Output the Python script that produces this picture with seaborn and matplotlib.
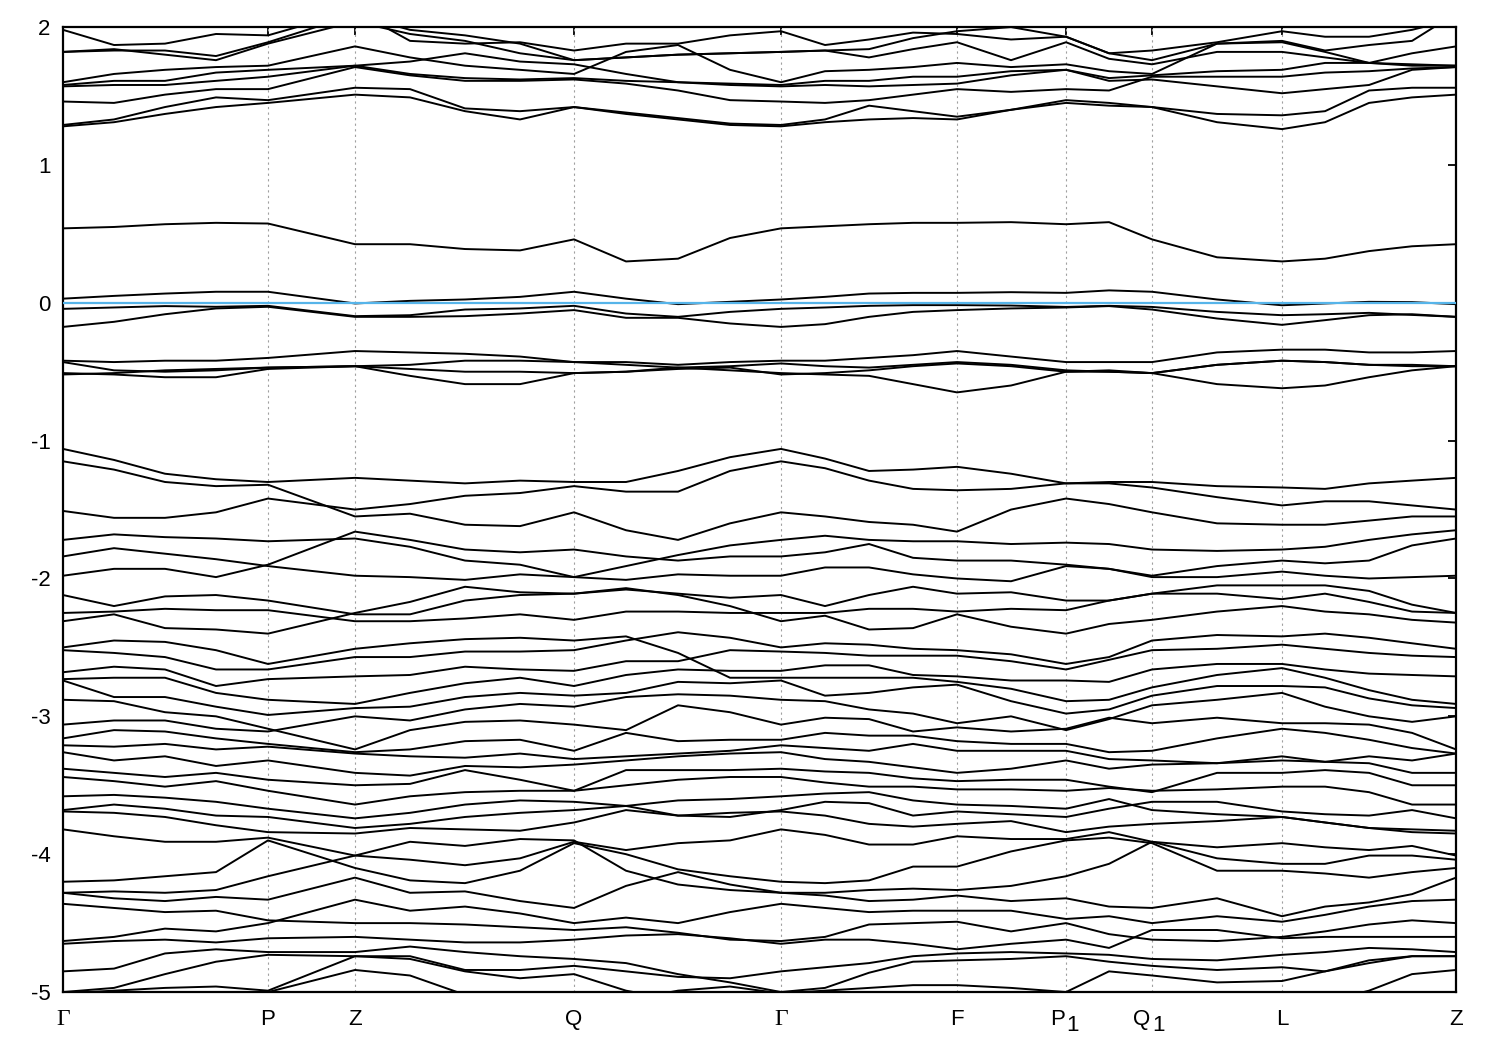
import matplotlib
matplotlib.use("Agg")
import matplotlib.pyplot as plt
import pandas as pd
import seaborn as sns

# path coordinate of every sampled column along the k-path
k_path = [0, 51, 102, 153, 205, 292, 347, 402, 457, 511, 563, 615, 667, 718,
          762, 806, 850, 894, 948, 1003, 1046, 1089, 1154, 1219, 1262, 1306, 1349, 1393]

k_nodes = [0, 205, 292, 511, 718, 894, 1003, 1089, 1219, 1393]
k_labels = ["Γ", "P", "Z", "Q", "Γ", "F", "", "", "L", "Z"]
sub_labels = [(1003, "P", "1"), (1089, "Q", "1")]

# ----------------------------------
# bands above the gap
# ----------------------------------
b09 = [1.98,1.87,1.88,1.95,1.94,2.12,1.90,1.88,1.89,1.83,1.88,1.88,1.94,1.97,1.87,1.91,1.96,1.95,1.91,1.93,1.81,1.76,1.88,1.90,1.83,1.87,1.90,2.10]
b08 = [1.82,1.83,1.83,1.79,1.89,2.09,1.98,1.94,1.88,1.76,1.78,1.80,1.81,1.82,1.83,1.84,1.92,1.97,2.00,1.93,1.81,1.83,1.89,1.97,1.93,1.93,1.98,2.06]
b07 = [1.82,1.84,1.80,1.76,1.88,2.04,1.95,1.90,1.81,1.76,1.78,1.80,1.81,1.82,1.83,1.78,1.84,1.89,1.76,1.89,1.77,1.73,1.82,1.82,1.78,1.74,1.81,1.86]
b06 = [1.60,1.66,1.69,1.71,1.72,1.86,1.78,1.72,1.69,1.66,1.82,1.87,1.69,1.60,1.68,1.69,1.71,1.74,1.71,1.73,1.68,1.66,1.88,1.89,1.82,1.74,1.72,1.72]
b05 = [1.58,1.61,1.61,1.67,1.69,1.72,1.75,1.81,1.75,1.73,1.66,1.60,1.59,1.58,1.61,1.61,1.64,1.64,1.68,1.69,1.61,1.62,1.57,1.52,1.55,1.58,1.69,1.71]
b04 = [1.57,1.58,1.58,1.61,1.64,1.72,1.66,1.63,1.62,1.63,1.61,1.60,1.58,1.57,1.58,1.57,1.58,1.59,1.65,1.69,1.63,1.65,1.68,1.69,1.74,1.74,1.73,1.72]
b03 = [1.46,1.45,1.51,1.55,1.55,1.71,1.65,1.61,1.61,1.62,1.59,1.54,1.47,1.46,1.45,1.47,1.51,1.55,1.53,1.55,1.54,1.64,1.64,1.64,1.67,1.68,1.70,1.71]
b02 = [1.29,1.33,1.42,1.49,1.47,1.56,1.55,1.41,1.39,1.42,1.38,1.34,1.30,1.29,1.33,1.43,1.39,1.35,1.40,1.47,1.45,1.42,1.37,1.36,1.39,1.54,1.56,1.56]
b01 = [1.28,1.31,1.37,1.42,1.45,1.51,1.49,1.39,1.33,1.42,1.37,1.33,1.29,1.28,1.31,1.33,1.34,1.33,1.40,1.45,1.43,1.42,1.31,1.26,1.31,1.45,1.49,1.51]

# ----------------------------------
# bands around the Fermi level
# ----------------------------------
m1 = [.54,.55,.57,.58,.575,.425,.425,.39,.38,.46,.30,.32,.47,.54,.555,.57,.58,.58,.585,.57,.585,.46,.33,.30,.32,.375,.41,.425]
m2 = [.03,.05,.067,.08,.08,-.005,.014,.024,.043,.08,.03,-.01,.007,.024,.043,.067,.072,.072,.077,.072,.09,.08,.024,-.018,-.005,.007,.005,-.01]
m3 = [-.044,-.034,-.024,-.029,-.022,-.097,-.09,-.049,-.041,-.022,-.078,-.102,-.066,-.044,-.034,-.022,-.017,-.017,-.02,-.03,-.022,-.03,-.066,-.09,-.083,-.073,-.088,-.102]
m4 = [-.175,-.138,-.083,-.041,-.029,-.102,-.102,-.097,-.078,-.053,-.109,-.109,-.15,-.175,-.155,-.102,-.066,-.053,-.041,-.034,-.024,-.049,-.114,-.16,-.126,-.09,-.083,-.102]

n1 = [-.42,-.43,-.42,-.42,-.40,-.35,-.36,-.37,-.39,-.43,-.43,-.45,-.43,-.42,-.42,-.40,-.38,-.35,-.39,-.43,-.43,-.43,-.36,-.34,-.34,-.36,-.36,-.35]
n2 = [-.43,-.49,-.50,-.49,-.47,-.46,-.45,-.42,-.42,-.43,-.45,-.47,-.46,-.44,-.46,-.47,-.45,-.43,-.45,-.49,-.50,-.51,-.45,-.42,-.43,-.45,-.46,-.46]
n3 = [-.51,-.52,-.54,-.54,-.48,-.46,-.53,-.59,-.59,-.51,-.50,-.47,-.49,-.51,-.52,-.53,-.59,-.65,-.60,-.50,-.50,-.51,-.59,-.62,-.60,-.54,-.49,-.46]
n4 = [-.52,-.51,-.49,-.48,-.47,-.46,-.48,-.50,-.50,-.51,-.50,-.48,-.47,-.52,-.51,-.49,-.46,-.44,-.46,-.50,-.49,-.51,-.45,-.42,-.43,-.45,-.45,-.46]

# ----------------------------------
# -1 to -3
# ----------------------------------
c01 = [-1.06,-1.14,-1.24,-1.28,-1.30,-1.27,-1.29,-1.31,-1.29,-1.30,-1.30,-1.22,-1.12,-1.06,-1.13,-1.22,-1.21,-1.19,-1.24,-1.31,-1.30,-1.30,-1.33,-1.34,-1.35,-1.31,-1.29,-1.27]
c02 = [-1.15,-1.21,-1.30,-1.33,-1.32,-1.55,-1.53,-1.61,-1.62,-1.52,-1.65,-1.72,-1.60,-1.52,-1.55,-1.59,-1.61,-1.66,-1.50,-1.42,-1.46,-1.52,-1.60,-1.61,-1.61,-1.58,-1.55,-1.55]
c03 = [-1.51,-1.56,-1.56,-1.52,-1.42,-1.50,-1.46,-1.40,-1.38,-1.33,-1.37,-1.37,-1.22,-1.15,-1.20,-1.29,-1.35,-1.36,-1.35,-1.31,-1.31,-1.34,-1.41,-1.47,-1.44,-1.44,-1.47,-1.50]
c04 = [-1.72,-1.68,-1.70,-1.71,-1.73,-1.71,-1.77,-1.87,-1.90,-1.99,-2.01,-1.97,-1.98,-1.98,-1.92,-1.92,-1.97,-2.00,-2.02,-1.91,-1.93,-1.99,-1.99,-1.95,-1.98,-2.00,-1.99,-1.98]
c05 = [-1.98,-1.93,-1.93,-1.99,-1.90,-1.66,-1.72,-1.79,-1.81,-1.79,-1.84,-1.87,-1.84,-1.84,-1.81,-1.75,-1.85,-1.87,-1.87,-1.90,-1.93,-1.98,-1.91,-1.87,-1.89,-1.87,-1.76,-1.71]
c06 = [-1.84,-1.78,-1.82,-1.86,-1.91,-1.98,-1.99,-2.01,-1.97,-1.99,-1.91,-1.83,-1.76,-1.72,-1.69,-1.72,-1.73,-1.73,-1.75,-1.74,-1.75,-1.79,-1.80,-1.79,-1.77,-1.72,-1.68,-1.65]
c07 = [-2.12,-2.20,-2.13,-2.12,-2.16,-2.26,-2.26,-2.16,-2.12,-2.11,-2.08,-2.11,-2.14,-2.12,-2.20,-2.12,-2.06,-2.11,-2.10,-2.16,-2.16,-2.11,-2.05,-2.05,-2.05,-2.09,-2.19,-2.25]
c08 = [-2.25,-2.24,-2.22,-2.23,-2.23,-2.31,-2.31,-2.29,-2.26,-2.30,-2.24,-2.24,-2.25,-2.25,-2.25,-2.22,-2.22,-2.24,-2.22,-2.23,-2.16,-2.11,-2.11,-2.15,-2.11,-2.17,-2.24,-2.25]
c09 = [-2.31,-2.26,-2.36,-2.37,-2.40,-2.25,-2.17,-2.06,-2.10,-2.11,-2.07,-2.12,-2.20,-2.31,-2.27,-2.37,-2.36,-2.26,-2.35,-2.40,-2.33,-2.30,-2.24,-2.20,-2.24,-2.26,-2.30,-2.32]
c10 = [-2.50,-2.45,-2.46,-2.52,-2.62,-2.51,-2.47,-2.44,-2.43,-2.45,-2.42,-2.54,-2.72,-2.72,-2.72,-2.72,-2.72,-2.75,-2.80,-2.89,-2.88,-2.79,-2.70,-2.65,-2.72,-2.81,-2.88,-2.91]
c11 = [-2.52,-2.54,-2.57,-2.66,-2.66,-2.57,-2.57,-2.53,-2.53,-2.52,-2.45,-2.39,-2.43,-2.50,-2.47,-2.48,-2.51,-2.52,-2.55,-2.62,-2.57,-2.45,-2.41,-2.42,-2.40,-2.43,-2.47,-2.51]
c12 = [-2.68,-2.64,-2.66,-2.78,-2.73,-2.71,-2.70,-2.64,-2.66,-2.67,-2.60,-2.60,-2.52,-2.53,-2.54,-2.56,-2.56,-2.56,-2.60,-2.66,-2.59,-2.52,-2.51,-2.48,-2.51,-2.54,-2.56,-2.57]
c13 = [-2.73,-2.72,-2.72,-2.83,-2.88,-2.91,-2.83,-2.76,-2.72,-2.78,-2.70,-2.66,-2.67,-2.67,-2.63,-2.63,-2.70,-2.71,-2.74,-2.74,-2.75,-2.66,-2.62,-2.62,-2.66,-2.69,-2.70,-2.71]
c14 = [-2.74,-2.86,-2.86,-2.93,-2.99,-2.94,-2.93,-2.86,-2.83,-2.85,-2.83,-2.75,-2.76,-2.74,-2.85,-2.83,-2.79,-2.77,-2.89,-2.98,-2.95,-2.85,-2.78,-2.78,-2.79,-2.87,-2.92,-2.94]
c15 = [-2.88,-2.89,-2.97,-3.00,-3.09,-3.24,-3.10,-3.04,-3.03,-3.06,-3.10,-2.92,-2.97,-3.06,-3.01,-3.02,-3.11,-3.08,-3.11,-3.09,-3.01,-3.05,-3.01,-3.05,-3.05,-3.06,-3.12,-3.24]
c16 = [-3.06,-3.03,-3.03,-3.09,-3.11,-3.00,-3.03,-2.95,-2.91,-2.93,-2.86,-2.84,-2.85,-2.88,-2.89,-2.95,-2.98,-3.05,-3.00,-3.10,-3.02,-2.92,-2.88,-2.83,-2.93,-3.00,-3.04,-3.00]

# ----------------------------------
# -3 to -5
# ----------------------------------
d01 = [-3.16,-3.10,-3.11,-3.16,-3.20,-3.26,-3.24,-3.18,-3.17,-3.25,-3.12,-3.18,-3.17,-3.17,-3.12,-3.14,-3.14,-3.18,-3.20,-3.20,-3.26,-3.25,-3.16,-3.09,-3.12,-3.17,-3.23,-3.27]
d02 = [-3.21,-3.22,-3.20,-3.24,-3.22,-3.27,-3.29,-3.30,-3.27,-3.31,-3.29,-3.27,-3.25,-3.21,-3.23,-3.25,-3.20,-3.25,-3.25,-3.25,-3.31,-3.32,-3.34,-3.29,-3.33,-3.29,-3.32,-3.27]
d03 = [-3.26,-3.32,-3.29,-3.36,-3.32,-3.41,-3.43,-3.36,-3.37,-3.35,-3.32,-3.29,-3.27,-3.26,-3.31,-3.33,-3.37,-3.41,-3.38,-3.32,-3.38,-3.35,-3.34,-3.32,-3.33,-3.34,-3.41,-3.41]
d04 = [-3.38,-3.41,-3.44,-3.41,-3.46,-3.50,-3.49,-3.39,-3.46,-3.54,-3.39,-3.39,-3.39,-3.38,-3.40,-3.41,-3.45,-3.47,-3.46,-3.46,-3.51,-3.55,-3.41,-3.41,-3.39,-3.41,-3.50,-3.50]
d05 = [-3.44,-3.47,-3.51,-3.47,-3.54,-3.64,-3.58,-3.55,-3.54,-3.54,-3.50,-3.46,-3.44,-3.44,-3.48,-3.51,-3.51,-3.53,-3.53,-3.54,-3.52,-3.54,-3.53,-3.51,-3.51,-3.55,-3.64,-3.64]
d06 = [-3.58,-3.57,-3.59,-3.62,-3.67,-3.74,-3.70,-3.64,-3.61,-3.62,-3.65,-3.72,-3.73,-3.68,-3.62,-3.63,-3.72,-3.69,-3.71,-3.73,-3.67,-3.62,-3.62,-3.69,-3.71,-3.72,-3.68,-3.74]
d07 = [-3.68,-3.64,-3.67,-3.72,-3.73,-3.81,-3.78,-3.73,-3.70,-3.68,-3.65,-3.61,-3.60,-3.58,-3.56,-3.55,-3.61,-3.64,-3.65,-3.67,-3.60,-3.68,-3.71,-3.73,-3.77,-3.81,-3.84,-3.85]
d08 = [-3.69,-3.70,-3.73,-3.79,-3.84,-3.85,-3.81,-3.82,-3.83,-3.77,-3.68,-3.72,-3.70,-3.69,-3.72,-3.78,-3.80,-3.78,-3.76,-3.84,-3.80,-3.78,-3.76,-3.73,-3.77,-3.81,-3.82,-3.83]
d09 = [-3.82,-3.87,-3.91,-3.91,-3.88,-4.01,-4.04,-4.08,-4.03,-3.91,-3.97,-3.92,-3.90,-3.82,-3.86,-3.93,-3.93,-3.87,-3.89,-3.89,-3.84,-3.91,-3.95,-3.92,-3.95,-3.97,-3.94,-4.01]
d10 = [-4.20,-4.19,-4.16,-4.13,-3.90,-4.10,-4.19,-4.21,-4.12,-3.92,-4.00,-4.11,-4.16,-4.20,-4.21,-4.19,-4.09,-4.09,-3.98,-3.90,-3.88,-3.92,-4.12,-4.12,-4.14,-4.17,-4.13,-4.10]
d11 = [-4.28,-4.27,-4.28,-4.26,-4.16,-4.01,-3.91,-3.94,-3.89,-3.90,-4.12,-4.22,-4.26,-4.28,-4.28,-4.26,-4.25,-4.26,-4.23,-4.16,-4.07,-3.91,-4.03,-4.07,-4.07,-4.01,-4.01,-4.04]
d12 = [-4.28,-4.32,-4.34,-4.31,-4.33,-4.17,-4.28,-4.27,-4.34,-4.39,-4.23,-4.13,-4.22,-4.28,-4.30,-4.34,-4.33,-4.30,-4.34,-4.32,-4.38,-4.39,-4.32,-4.45,-4.38,-4.35,-4.29,-4.17]
d13 = [-4.36,-4.39,-4.42,-4.41,-4.48,-4.50,-4.50,-4.51,-4.53,-4.55,-4.53,-4.57,-4.62,-4.63,-4.60,-4.51,-4.50,-4.49,-4.56,-4.50,-4.58,-4.62,-4.63,-4.60,-4.56,-4.51,-4.48,-4.50]
d14 = [-4.63,-4.60,-4.54,-4.56,-4.50,-4.33,-4.41,-4.38,-4.43,-4.50,-4.46,-4.50,-4.42,-4.36,-4.39,-4.42,-4.41,-4.41,-4.41,-4.47,-4.45,-4.50,-4.45,-4.49,-4.44,-4.38,-4.34,-4.33]
d15 = [-4.65,-4.63,-4.62,-4.64,-4.61,-4.60,-4.62,-4.64,-4.64,-4.62,-4.59,-4.58,-4.61,-4.65,-4.62,-4.62,-4.65,-4.69,-4.65,-4.62,-4.68,-4.55,-4.55,-4.61,-4.60,-4.60,-4.60,-4.60]
d16 = [-4.85,-4.83,-4.72,-4.69,-4.71,-4.71,-4.67,-4.71,-4.74,-4.76,-4.79,-4.87,-4.93,-5.00,-4.97,-4.86,-4.78,-4.77,-4.76,-4.74,-4.78,-4.81,-4.84,-4.82,-4.85,-4.79,-4.74,-4.74]
d17 = [-5.00,-4.97,-4.87,-4.78,-4.73,-4.74,-4.74,-4.84,-4.84,-4.81,-4.85,-4.89,-4.90,-4.85,-4.82,-4.79,-4.74,-4.72,-4.71,-4.72,-4.73,-4.76,-4.77,-4.73,-4.71,-4.68,-4.69,-4.71]
d18 = [-5.01,-4.99,-4.97,-4.96,-4.99,-4.74,-4.76,-4.85,-4.90,-4.87,-4.99,-5.06,-5.06,-5.01,-4.99,-4.97,-4.95,-4.95,-4.97,-5.00,-4.85,-4.88,-4.93,-4.92,-4.85,-4.77,-4.74,-4.74]
d19 = [-5.03,-5.03,-5.03,-5.02,-5.00,-4.84,-4.88,-5.02,-5.13,-5.13,-5.06,-4.99,-4.96,-5.01,-5.03,-5.03,-5.03,-5.03,-5.03,-5.01,-5.03,-5.08,-5.11,-5.08,-5.07,-4.99,-4.87,-4.84]

all_bands = [b09, b08, b07, b06, b05, b04, b03, b02, b01, m1, m2, m3, m4, n1, n2, n3, n4,
             c01, c02, c03, c04, c05, c06, c07, c08, c09, c10, c11, c12, c13, c14, c15, c16,
             d01, d02, d03, d04, d05, d06, d07, d08, d09, d10, d11, d12, d13, d14, d15, d16, d17, d18, d19]

rows = []
for i, band in enumerate(all_bands):
    rows.append(pd.DataFrame({"k": k_path, "E": band, "band": i}))
df = pd.concat(rows, ignore_index=True)

sns.set_style("white")
plt.rcParams["font.family"] = ["Liberation Sans", "DejaVu Sans"]
plt.rcParams["axes.unicode_minus"] = False

fig = plt.figure(figsize=(15, 10.5), dpi=100)
ax = fig.add_axes([0.042, 0.0552, 0.9287, 0.919])

for pos in k_nodes[1:-1]:
    ax.axvline(pos, color="#a0a0a0", lw=0.8, ls=(0, (2, 3)), zorder=1)

sns.lineplot(data=df, x="k", y="E", units="band", estimator=None, sort=False,
             color="black", lw=1.4, legend=False, ax=ax, zorder=2)

# Fermi level
ax.axhline(0, color="#56b4e9", lw=1.6, zorder=3)

ax.set_xlim(k_nodes[0], k_nodes[-1])
ax.set_ylim(-5, 2)
ax.set_xlabel("")
ax.set_ylabel("")
ax.set_xticks(k_nodes)
ax.set_xticklabels(k_labels)
ax.set_yticks(range(-5, 3))
ax.tick_params(axis="both", direction="in", length=6, width=1.3, top=True, right=True,
               labelsize=16, colors="black")
ax.tick_params(axis="x", pad=12)
ax.tick_params(axis="y", pad=9)

for lab in ax.get_xticklabels():
    if lab.get_text() == "Γ":
        lab.set_family("Liberation Serif")
        lab.set_fontsize(17)

# P1 and Q1: gnuplot-style subscript at full size
for pos, main, sub in sub_labels:
    ax.annotate(main, xy=(pos, 0), xycoords=ax.get_xaxis_transform(), xytext=(-1, -12),
                textcoords="offset points", ha="right", va="top", fontsize=16, color="black")
    ax.annotate(sub, xy=(pos, 0), xycoords=ax.get_xaxis_transform(), xytext=(0, -16.5),
                textcoords="offset points", ha="left", va="top", fontsize=16, color="black")

for side in ax.spines.values():
    side.set_visible(True)
    side.set_color("black")
    side.set_linewidth(1.6)

fig.savefig("out.png", dpi=100)
